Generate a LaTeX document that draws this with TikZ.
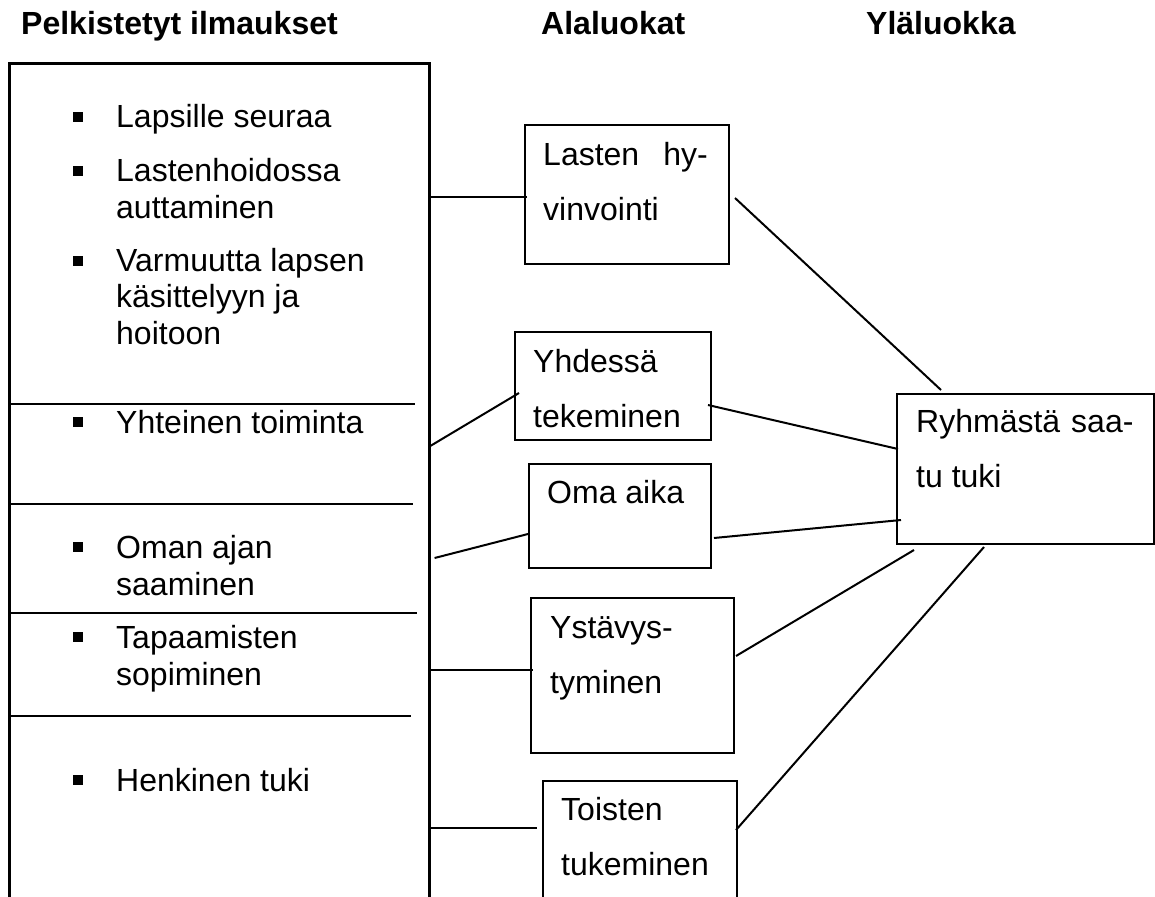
\documentclass[tikz,border=0pt]{standalone}
\usepackage{fontspec}
\setmainfont{Liberation Sans}
\usepackage{tikz}
\usetikzlibrary{calc,positioning}

\tikzset{
  box/.style={draw, line width=2pt, rectangle, inner sep=0pt, anchor=north west},
  bigbox/.style={box, line width=2.6pt},
  lbl/.style={anchor=base west, inner sep=0pt, align=left, font=\fontsize{32}{36.5}\selectfont},
  wide/.style={lbl, font=\fontsize{32}{55}\selectfont},
  head/.style={anchor=base west, inner sep=0pt, font=\bfseries\fontsize{32}{36}\selectfont},
  bul/.style={fill, rectangle, minimum size=9.5pt, inner sep=0pt},
  link/.style={line width=2pt},
}

\begin{document}
\begin{tikzpicture}[x=1pt, y=-1pt]
\useasboundingbox (0,0) rectangle (1155,896);
\clip (0,0) rectangle (1155,896);

% otsikot
\node[head] (hpelk) at (21,35) {Pelkistetyt ilmaukset};
\node[head] (hala) at (541,35) {Alaluokat};
\node[head] (hyla) at (866,35) {Yläluokka};

% pelkistetyt ilmaukset (base = last line)
\node[bigbox, minimum width=420, minimum height=860] (pelk) at (8,62) {};
\foreach \dy/\len in {342/407, 442/405, 551/409, 654/403}
  \draw[link] ($(pelk.north west)+(0,\dy)$) -- +(\len,0);

\foreach \y/\last/\txt/\nm in {128/128/{Lapsille seuraa}/i1,
                               182/218/{Lastenhoidossa\\auttaminen}/i2,
                               272/344/{Varmuutta lapsen\\käsittelyyn ja\\hoitoon}/i3,
                               433/433/{Yhteinen toiminta}/i4,
                               558/595/{Oman ajan\\saaminen}/i5,
                               648/685/{Tapaamisten\\sopiminen}/i6,
                               791/791/{Henkinen tuki}/i7}{
  \node[lbl] (\nm) at (116,\last) {\txt};
  \node[bul] (b\nm) at (78,\y-11) {};
}

% alaluokat
\node[box, minimum width=204, minimum height=139] (lasten) at (524,124) {};
\node[wide] (lastent) at (543,220) {Lasten\hspace{24pt}hy-\\vinvointi};

\node[box, minimum width=196, minimum height=108] (yhdessa) at (514,331) {};
\node[wide] (yhdessat) at (533,427) {Yhdessä\\tekeminen};

\node[box, minimum width=182, minimum height=104] (oma) at (528,463) {};
\node[wide] (omat) at (547,503) {Oma aika};

\node[box, minimum width=203, minimum height=155] (ystavys) at (530,597) {};
\node[wide] (ystavyst) at (550,693) {Ystävys-\\tyminen};

\node[box, minimum width=194, minimum height=200] (toisten) at (542,780) {};
\node[wide] (toistent) at (561,875) {Toisten\\tukeminen};

% yläluokka
\node[box, minimum width=257, minimum height=150] (ryhma) at (896,393) {};
\node[wide] (ryhmat) at (916,487) {Ryhmästä\hspace{11pt}saa-\\tu tuki};

% yhteydet
\coordinate (e1) at ($(pelk.north east)+(-2,135)$);
\coordinate (e2) at ($(pelk.north east)+(-2,385)$);
\coordinate (e3) at ($(pelk.north east)+(4,496)$);
\coordinate (e4) at ($(pelk.north east)+(-2,608)$);
\coordinate (e5) at ($(pelk.north east)+(-2,766)$);

\draw[link] (e1) -- ($(lasten.north west)+(3,73)$);
\draw[link] (e2) -- ($(yhdessa.north west)+(5,62)$);
\draw[link] (e3) -- ($(oma.north west)+(0,71)$);
\draw[link] (e4) -- ($(ystavys.north west)+(3,73)$);
\draw[link] (e5) -- ($(toisten.north west)+(-5,48)$);

\draw[link] ($(lasten.north east)+(5,74)$) -- ($(ryhma.north west)+(45,-3)$);
\draw[link] ($(yhdessa.north east)+(-4,74)$) -- ($(ryhma.north west)+(2,56)$);
\draw[link] ($(oma.north east)+(2,75)$) -- ($(ryhma.north west)+(5,127)$);
\draw[link] ($(ystavys.north east)+(1,59)$) -- ($(ryhma.south west)+(18,5)$);
\draw[link] ($(toisten.north east)+(-2,50)$) -- ($(ryhma.south west)+(88,2)$);
\end{tikzpicture}
\end{document}
